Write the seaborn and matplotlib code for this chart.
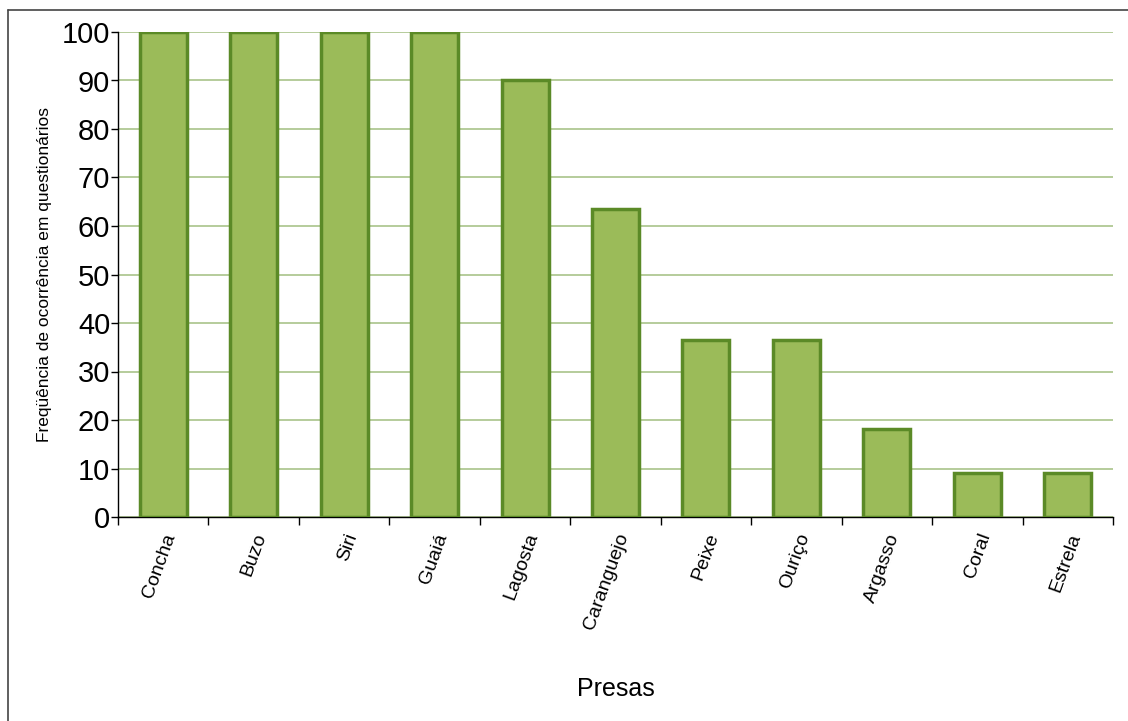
import matplotlib
matplotlib.use("Agg")
import matplotlib.pyplot as plt
import seaborn as sns
import pandas as pd
from matplotlib.lines import Line2D

categories = ["Concha", "Buzo", "Siri", "Guaiá", "Lagosta", "Caranguejo",
              "Peixe", "Ouriço", "Argasso", "Coral", "Estrela"]
values = [100, 100, 100, 100, 90, 63.6, 36.4, 36.4, 18.2, 9.1, 9.1]
yticks = [0, 10, 20, 30, 40, 50, 60, 70, 80, 90, 100]

df = pd.DataFrame({"Presas": categories, "Freq": values})

sns.set_style("white")
plt.rcParams['font.family'] = ['Liberation Sans', 'DejaVu Sans']
plt.rcParams['text.color'] = 'black'
plt.rcParams['axes.labelcolor'] = 'black'
plt.rcParams['xtick.color'] = 'black'
plt.rcParams['ytick.color'] = 'black'

W, H = 1128, 721
fig = plt.figure(figsize=(W / 100, H / 100), dpi=100)
ax = fig.add_axes([118 / W, 1 - 517 / H, (1113 - 118) / W, (517 - 32) / H])

sns.barplot(data=df, x="Presas", y="Freq", ax=ax, color="#9bbb59",
            edgecolor="#5b8a27", linewidth=2.5, width=0.52, saturation=1,
            zorder=3)

ax.set_ylim(0, 100)
ax.set_xlim(-0.5, len(categories) - 0.5)
ax.set_yticks(yticks)
ax.set_yticklabels([str(t) for t in yticks], fontsize=21)
ax.yaxis.grid(True, color="#a9c48a", linewidth=1.2, zorder=0)
ax.set_axisbelow(True)

# x ticks between categories
ax.set_xticks(range(len(categories)))
ax.set_xticklabels(categories, rotation=70, ha="right", rotation_mode="anchor",
                   fontsize=14)
ax.tick_params(axis="x", length=0, pad=10)
ax.set_xticks([i - 0.5 for i in range(len(categories) + 1)], minor=True)
ax.tick_params(axis="x", which="minor", length=6, width=1, color="black",
               direction="out", bottom=True)
ax.tick_params(axis="y", length=5, width=1, color="black", direction="out",
               left=True, pad=0.5)

for s in ["top", "right"]:
    ax.spines[s].set_visible(False)
for s in ["left", "bottom"]:
    ax.spines[s].set_color("black")
    ax.spines[s].set_linewidth(1)

ax.set_xlabel("Presas", fontsize=18)
ax.xaxis.set_label_coords(0.5, -0.33)
ax.set_ylabel("Freqüência de ocorrência em questionários", fontsize=12.5)
ax.yaxis.set_label_coords(-0.066, 0.5)

# partial frame (top and left) in figure pixels
fig.add_artist(Line2D([8 / W, 8 / W], [0, 1 - 10 / H], transform=fig.transFigure,
                      color="#444444", linewidth=1.2))
fig.add_artist(Line2D([8 / W, 1], [1 - 10 / H, 1 - 10 / H], transform=fig.transFigure,
                      color="#444444", linewidth=1.2))

fig.savefig("out.png", dpi=100)
